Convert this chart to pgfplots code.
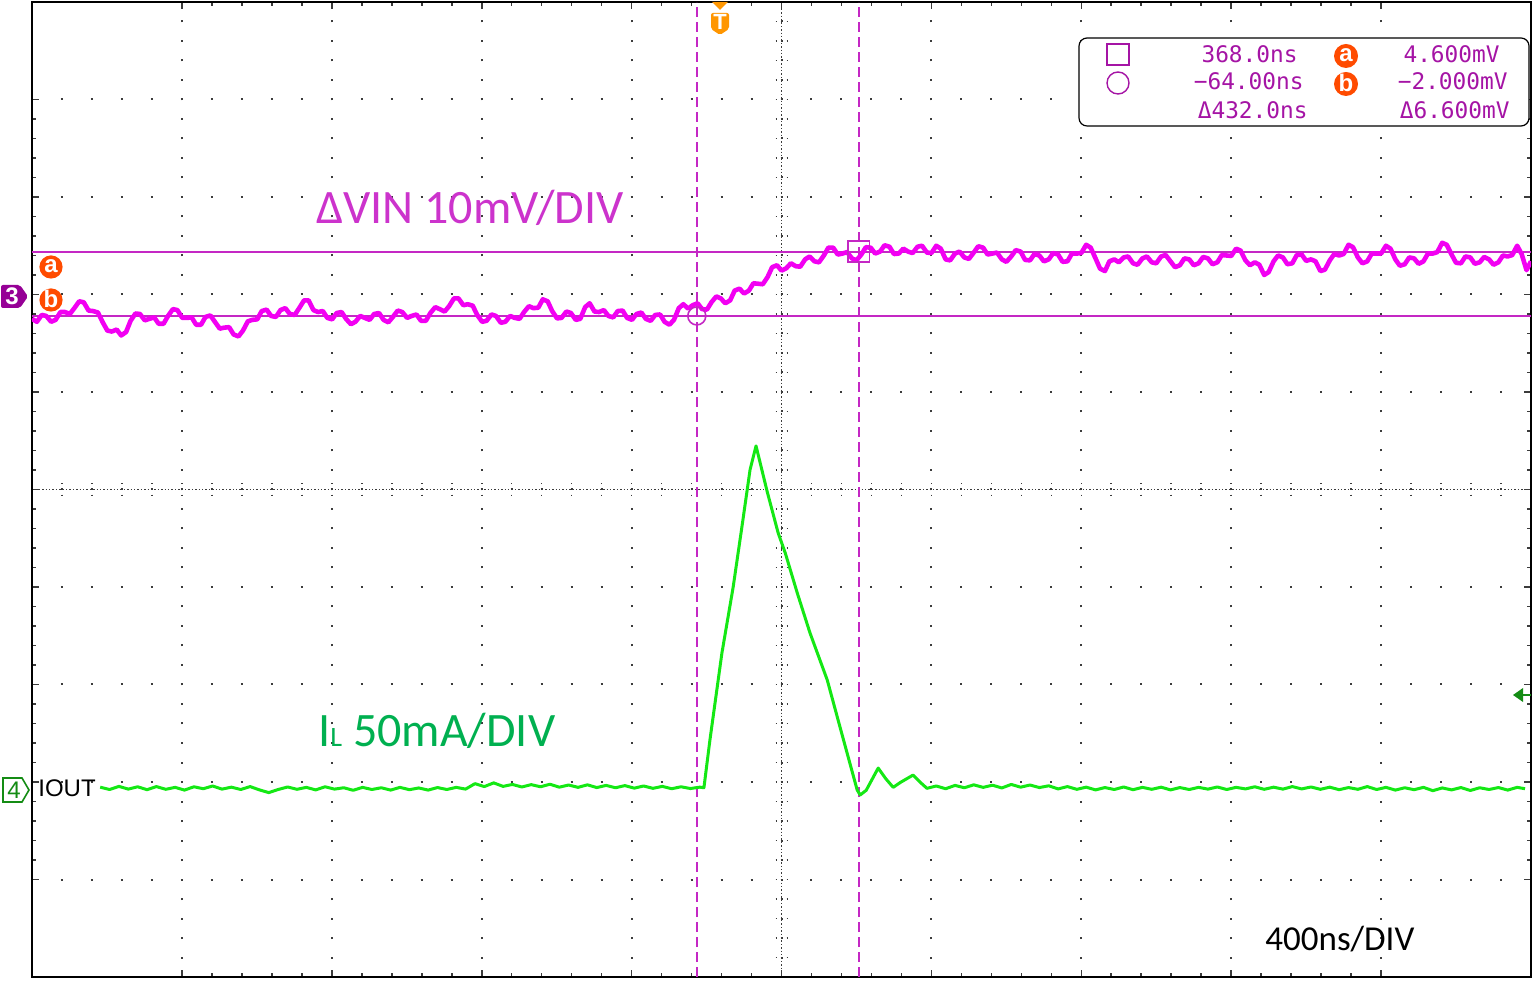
\documentclass[border=0pt]{standalone}
\usepackage{fontspec}
\setmainfont{Carlito}
\newfontfamily\monofont{DejaVu Sans Mono}
\newfontfamily\arialfont{Liberation Sans}
\usepackage{pgfplots}
\usepackage{pgfplotstable}
\pgfplotsset{compat=1.18}

\definecolor{trA}{RGB}{242,0,242}
\definecolor{curs}{RGB}{196,40,196}
\definecolor{labA}{RGB}{204,51,204}
\definecolor{rdout}{RGB}{165,20,165}
\definecolor{trB}{RGB}{20,232,20}
\definecolor{labB}{RGB}{0,176,80}
\definecolor{mkB}{RGB}{20,140,20}
\definecolor{trig}{RGB}{255,150,0}
\definecolor{abc}{RGB}{255,75,0}
\definecolor{chA}{RGB}{150,0,150}
\definecolor{griddot}{RGB}{60,60,60}

% Delta VIN (mV) vs time (ns), channel 3, 10 mV/div
\pgfplotstableread{
t v
-1838 -2.3
-1825 -2.6
-1812 -1.9
-1800 -2.0
-1787 -2.6
-1775 -2.4
-1762 -1.6
-1750 -1.6
-1737 -1.8
-1725 -1.2
-1712 -0.5
-1700 -0.6
-1687 -1.45
-1675 -1.5
-1662 -1.65
-1650 -2.6
-1637 -3.5
-1625 -3.6
-1612 -3.4
-1600 -4.0
-1587 -3.65
-1575 -2.5
-1562 -1.75
-1550 -1.8
-1537 -2.45
-1525 -2.3
-1512 -2.15
-1500 -2.8
-1487 -2.8
-1475 -2.0
-1462 -1.3
-1450 -1.4
-1437 -2.2
-1425 -2.2
-1412 -2.15
-1400 -2.9
-1387 -2.9
-1375 -2.1
-1362 -1.95
-1350 -2.6
-1337 -3.3
-1325 -3.2
-1312 -3.15
-1300 -3.9
-1287 -4.1
-1275 -3.5
-1262 -2.55
-1250 -2.4
-1237 -2.35
-1225 -1.5
-1212 -1.35
-1200 -2.0
-1187 -2.1
-1175 -1.4
-1162 -1.2
-1150 -1.8
-1137 -1.9
-1125 -1.2
-1112 -0.4
-1100 -0.4
-1087 -1.4
-1075 -1.6
-1062 -1.5
-1050 -2.2
-1037 -2.35
-1025 -1.7
-1012 -1.6
-1000 -2.3
-987 -2.85
-975 -2.6
-962 -2.0
-950 -2.2
-937 -2.4
-925 -1.8
-912 -1.7
-900 -2.4
-887 -2.65
-875 -2.1
-862 -1.45
-850 -1.6
-837 -2.2
-825 -2.0
-812 -1.85
-800 -2.5
-787 -2.5
-775 -1.7
-762 -1.1
-750 -1.3
-737 -1.55
-725 -1.0
-712 -0.2
-700 -0.2
-687 -0.9
-675 -0.8
-662 -0.95
-650 -1.9
-637 -2.6
-625 -2.5
-612 -1.85
-600 -2.0
-587 -2.7
-575 -2.6
-562 -2.0
-550 -2.2
-537 -2.3
-525 -1.6
-512 -1.0
-500 -1.2
-487 -1.15
-475 -0.3
-462 -0.5
-450 -1.5
-437 -2.25
-425 -2.2
-412 -1.55
-400 -1.7
-387 -2.4
-375 -2.3
-362 -1.1
-350 -0.7
-337 -1.55
-325 -1.6
-312 -1.4
-300 -2.0
-287 -2.15
-275 -1.5
-262 -1.45
-250 -2.2
-237 -2.4
-225 -1.8
-212 -1.65
-200 -2.3
-187 -2.5
-175 -1.9
-162 -1.85
-150 -2.6
-137 -2.9
-125 -2.4
-112 -1.2
-100 -0.8
-87 -1.25
-75 -0.9
-62 -0.7
-50 -1.3
-37 -1.35
-25 -0.6
-12 0.0
0 -0.2
12 -0.7
25 -0.4
37 0.6
50 0.8
62 0.3
75 0.6
87 1.35
100 1.3
112 1.25
125 2.0
137 3.0
150 3.2
162 2.65
175 2.9
187 3.4
200 3.1
212 3.05
225 3.8
237 4.1
250 3.6
262 3.5
275 4.2
287 5.0
300 5.0
312 4.3
325 4.4
337 4.55
350 3.9
362 3.7
375 4.3
387 5.05
400 5.0
412 4.4
425 4.6
437 5.25
450 5.1
462 4.35
475 4.4
487 4.9
500 4.6
512 4.45
525 5.1
537 5.2
550 4.5
562 4.45
575 5.2
587 4.9
600 3.8
612 3.7
625 4.4
637 4.6
650 4.0
662 3.85
675 4.5
687 5.15
700 5.0
712 4.3
725 4.4
737 4.5
750 3.8
762 3.55
775 4.1
787 4.75
800 4.6
812 3.75
825 3.7
837 4.35
850 4.2
862 3.6
875 3.8
887 4.45
900 4.3
912 3.55
925 3.6
937 4.4
950 4.4
962 4.45
975 5.3
987 5.0
1000 3.9
1012 2.85
1025 2.6
1037 3.6
1050 3.8
1062 3.5
1075 4.0
1087 4.1
1100 3.4
1112 3.25
1125 3.9
1137 4.1
1150 3.5
1162 3.4
1175 4.1
1187 4.25
1200 3.6
1212 3.0
1225 3.2
1237 3.9
1250 3.8
1262 3.2
1275 3.4
1287 4.05
1300 3.9
1312 3.3
1325 3.5
1337 4.25
1350 4.2
1362 4.15
1375 4.9
1387 4.7
1400 3.7
1412 3.2
1425 3.5
1437 3.25
1450 2.2
1462 2.5
1475 3.6
1487 4.2
1500 4.0
1512 3.3
1525 3.4
1537 4.25
1550 4.3
1562 3.65
1575 3.8
1587 3.6
1600 2.6
1612 2.75
1625 3.7
1637 4.35
1650 4.2
1662 4.35
1675 5.3
1687 5.05
1700 4.0
1712 3.4
1725 3.6
1737 4.4
1750 4.4
1762 4.4
1775 5.2
1787 4.9
1800 3.8
1812 3.15
1825 3.3
1837 4.0
1850 3.9
1862 3.35
1875 3.6
1887 4.4
1900 4.4
1912 4.55
1925 5.5
1937 5.3
1950 4.3
1962 3.45
1975 3.4
1987 4.1
2000 4.0
2012 3.35
2025 3.5
2037 4.05
2050 3.8
2062 3.25
2075 3.5
2087 4.2
2100 4.1
2112 4.25
2125 5.2
2137 4.35
2150 2.7
2162 3.6
}\vin

% IL (mA) vs time (ns), channel 4, 50 mA/div
\pgfplotstableread{
t i
-1656 0.6
-1631 -0.6
-1606 1.0
-1581 -0.4
-1556 0.8
-1531 -0.7
-1506 0.9
-1481 -0.5
-1456 0.5
-1431 -0.9
-1406 0.8
-1381 -0.2
-1356 1.2
-1331 -0.4
-1306 0.6
-1281 -0.6
-1256 0.9
-1231 -0.8
-1206 -2.2
-1181 -0.6
-1156 0.7
-1131 -0.5
-1106 0.5
-1081 -0.8
-1056 0.8
-1031 -0.4
-1006 0.3
-981 -1.0
-956 0.5
-931 -0.6
-906 0.3
-881 -0.9
-856 0.5
-831 -0.7
-806 0.2
-781 -0.9
-756 0.4
-731 -0.6
-706 0.5
-681 -0.4
-656 2.4
-631 0.9
-606 2.8
-581 1.0
-556 2.0
-531 0.7
-506 1.9
-481 0.8
-456 2.1
-431 0.6
-406 1.7
-381 0.5
-356 1.8
-331 0.4
-306 1.5
-281 0.3
-256 1.4
-231 0.1
-206 1.2
-181 0.0
-156 1.0
-131 -0.2
-106 0.8
-81 -0.1
-56 0.6
-45 0.3
-29 24.8
3 69.4
33 103.2
59 137.6
78 163.3
94 175.6
124 152.0
153 131.0
172 120.7
204 100.2
238 79.7
284 55.6
318 31.5
364 -0.9
372 -3.4
388 -1.0
420 10.4
440 5.0
460 0.5
479 3.0
513 6.8
530 3.5
550 0.0
575 1.2
600 -0.2
625 1.5
650 0.3
675 1.8
700 0.5
725 1.6
750 0.2
775 2.0
800 0.6
825 1.7
850 0.4
875 1.3
900 -0.3
925 0.9
950 -0.5
975 0.6
1000 -0.8
1025 0.4
1050 -0.6
1075 0.7
1100 -0.7
1125 0.5
1150 -0.5
1175 0.6
1200 -0.8
1225 0.4
1250 -0.6
1275 0.5
1300 -0.4
1325 0.7
1350 -0.6
1375 0.5
1400 -0.3
1425 0.8
1450 -0.5
1475 0.6
1500 -0.4
1525 0.9
1550 -0.3
1575 0.7
1600 -0.5
1625 0.6
1650 -0.7
1675 0.4
1700 -0.5
1725 0.9
1750 -0.6
1775 0.5
1800 -0.9
1825 0.3
1850 -0.7
1875 0.5
1900 -1.2
1925 0.2
1950 -0.8
1975 0.4
2000 -1.1
2025 0.3
2050 -0.6
2075 0.4
2100 -0.9
2125 0.5
2146 -0.2
}\iout

\begin{document}
\begin{tikzpicture}
\path[use as bounding box] (0,0) rectangle (768pt,490pt);
\fill[white] (0,0) rectangle (768pt,490pt);

% centre crosshair (drawn below traces)
\begin{scope}[x=0.5pt,y=-0.5pt,yshift=490pt]
\draw[griddot, line width=0.7pt, dash pattern=on 0.7pt off 1.0pt] (781.5,2) -- (781.5,977);
\draw[griddot, line width=0.7pt, dash pattern=on 0.7pt off 1.0pt] (32,489.5) -- (1531,489.5);
\foreach \k in {-24,...,24} {
  \draw[griddot, line width=0.8pt, dash pattern=on 0.8pt off 2.2pt, dash phase=0.4pt]
    ({781.5-6},{489.5+\k*19.5}) -- ({781.5+6},{489.5+\k*19.5});
  \draw[griddot, line width=0.8pt, dash pattern=on 0.8pt off 2.2pt, dash phase=0.4pt]
    ({781.5+\k*29.98},{489.5-6}) -- ({781.5+\k*29.98},{489.5+6});
}
\end{scope}

\begin{axis}[at={(16pt,1.5pt)}, anchor=south west, scale only axis,
  width=749.5pt, height=487.5pt,
  xmin=-1838, xmax=2162, ymin=-5, ymax=5,
  xtick={-1438,-1038,-638,-238,162,562,962,1362,1762},
  ytick={-4,-3,-2,-1,0,1,2,3,4},
  minor x tick num=4, minor y tick num=4,
  xticklabels={}, yticklabels={},
  tick align=inside,
  major tick length=3.5pt, minor tick length=2pt,
  every tick/.style={griddot, line width=0.8pt},
  grid=major,
  major x grid style={griddot, line width=1pt, dash pattern=on 1pt off 8.75pt, dash phase=0.5pt},
  major y grid style={griddot, line width=1pt, dash pattern=on 1pt off 13.99pt, dash phase=0.5pt},
  axis line style={black, line width=1.1pt},
  clip=true,
]
% cursors
\addplot[curs, line width=1pt, dash pattern=on 5pt off 2.5pt] coordinates {(-64,-5) (-64,5)};
\addplot[curs, line width=1pt, dash pattern=on 5pt off 2.5pt] coordinates {(368,-5) (368,5)};
\addplot[curs, line width=1pt] coordinates {(-1838,2.44) (2162,2.44)};
\addplot[curs, line width=1pt] coordinates {(-1838,1.78) (2162,1.78)};
% traces
\addplot[trA, line width=2.3pt, line join=round] table[x=t, y expr=\thisrow{v}/10+1.98] {\vin};
\addplot[trB, line width=1.5pt, line join=round] table[x=t, y expr=\thisrow{i}/50-3.065] {\iout};
% cursor markers
\addplot[curs, only marks, mark=o, mark size=4.5pt, mark options={line width=0.8pt}] coordinates {(-64,1.78)};
\addplot[curs, only marks, mark=square, mark size=5.3pt, mark options={line width=0.8pt}] coordinates {(368,2.44)};
\end{axis}

\begin{scope}[x=0.5pt,y=-0.5pt,yshift=490pt]
% labels
\node[labA, anchor=base west, inner sep=0, font=\fontsize{24}{24}\selectfont] at (316,224) {ΔVIN 10mV/DIV};
\node[labB, anchor=base west, inner sep=0, font=\fontsize{24}{24}\selectfont] at (318,747) {I{\fontsize{14}{14}\selectfont L} 50mA/DIV};
\node[black, anchor=base west, inner sep=0, font=\fontsize{17.5}{17.5}\selectfont] at (1265,950) {400ns/DIV};
\node[black, anchor=base west, inner sep=0, font=\arialfont\fontsize{12}{12}\selectfont] at (38,796) {IOUT};

% trigger marker
\fill[trig] (712,2) -- (728,2) -- (720,10) -- cycle;
\fill[trig, rounded corners=1pt] (711,13) -- (729,13) -- (729,29) -- (720,35) -- (711,29) -- cycle;
\node[white, inner sep=0, font=\arialfont\bfseries\fontsize{11}{11}\selectfont] at (720,22) {T};

% channel markers
\fill[chA, rounded corners=1pt] (1,285) -- (20,285) -- (28,296.5) -- (20,308) -- (1,308) -- cycle;
\node[white, inner sep=0, font=\arialfont\bfseries\fontsize{12}{12}\selectfont] at (12,296.5) {3};
\draw[mkB, line width=0.8pt] (3,778) -- (22,778) -- (29,790) -- (22,802) -- (3,802) -- cycle;
\node[mkB, inner sep=0, font=\arialfont\fontsize{12}{12}\selectfont] at (14,790) {4};

% a / b markers on the left
\fill[abc] (51,267) circle (5.8pt);
\node[white, inner sep=0, font=\arialfont\bfseries\fontsize{12}{12}\selectfont] at (51,266) {a};
\fill[abc] (51,300) circle (5.8pt);
\node[white, inner sep=0, font=\arialfont\bfseries\fontsize{12}{12}\selectfont] at (51,299) {b};

% green trigger-level arrow on the right
\fill[mkB] (1513,695) -- (1523,688) -- (1523,702) -- cycle;
\draw[mkB, line width=1pt] (1520,695) -- (1531,695);

% cursor readout
\draw[black, line width=0.6pt, fill=white, rounded corners=4pt] (1079,38) rectangle (1529,126);
\draw[rdout, line width=0.7pt] (1107,44) rectangle (1129,65);
\draw[rdout, line width=0.7pt] (1118,83) circle (5.5pt);
\fill[abc] (1346,56) circle (6pt);
\node[white, inner sep=0, font=\arialfont\bfseries\fontsize{12}{12}\selectfont] at (1346,55) {a};
\fill[abc] (1346,84) circle (6pt);
\node[white, inner sep=0, font=\arialfont\bfseries\fontsize{12}{12}\selectfont] at (1346,83) {b};
\begin{scope}[every node/.style={rdout, inner sep=0, anchor=base east, font=\monofont\fontsize{11.4}{11.4}\selectfont}]
\node at (1298,62.5) {368.0ns};
\node at (1304,90) {−64.00ns};
\node at (1308,119) {Δ432.0ns};
\node at (1500,62.5) {4.600mV};
\node at (1508,90) {−2.000mV};
\node at (1510,119) {Δ6.600mV};
\end{scope}
\end{scope}
\end{tikzpicture}
\end{document}
